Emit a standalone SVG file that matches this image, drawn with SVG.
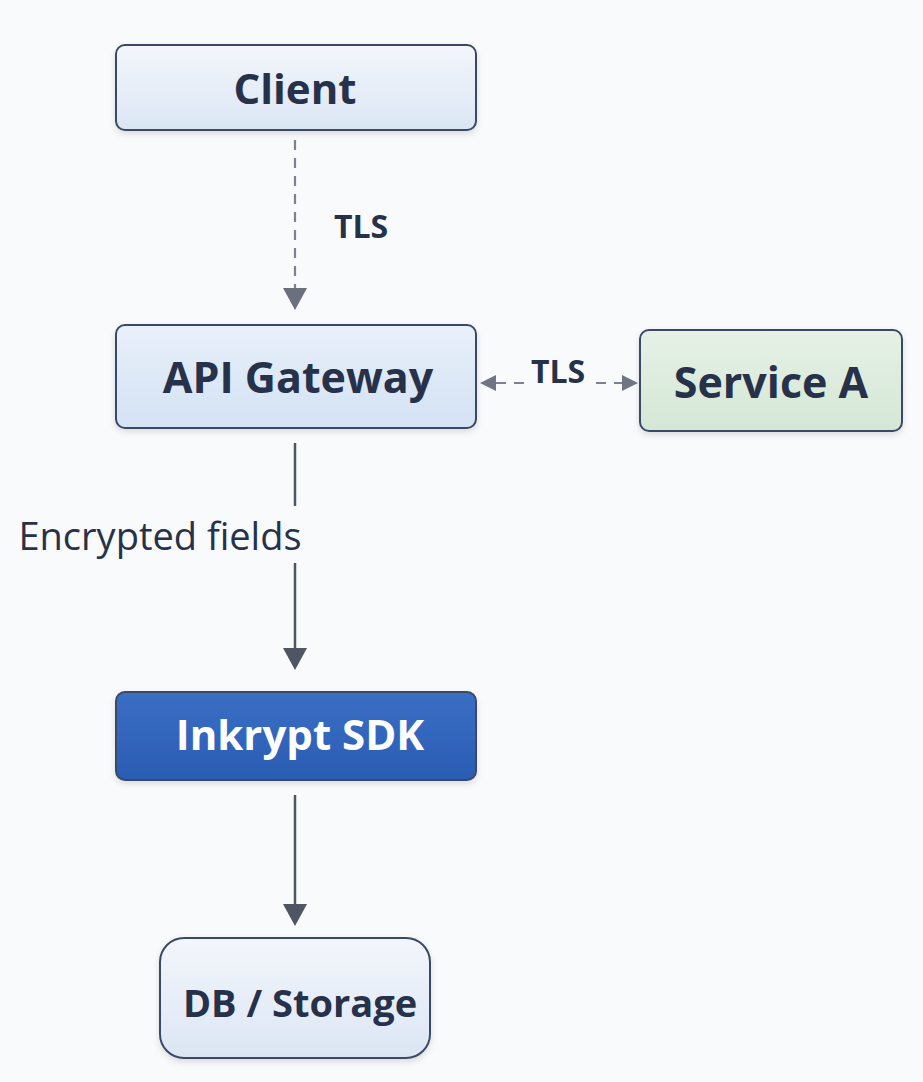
<svg xmlns="http://www.w3.org/2000/svg" width="923" height="1082" viewBox="0 0 923 1082">
<style>
.lbl{font-family:"Open Sans","Noto Sans",sans-serif;font-weight:700;fill:#27324a;text-anchor:middle}
.node{stroke:#3b4a66;stroke-width:2}
.solid{stroke:#4e5563;stroke-width:2.5;fill:none}
.dash{stroke:#7b8190;stroke-width:2.2;fill:none;stroke-dasharray:10 8}
.edge{font-family:"Open Sans","Noto Sans",sans-serif;fill:#27324a}
</style>
<defs>
<linearGradient id="gBlue" x1="0" y1="0" x2="0" y2="1"><stop offset="0" stop-color="#f3f6fb"/><stop offset="1" stop-color="#dbe6f4"/></linearGradient>
<linearGradient id="gBlue2" x1="0" y1="0" x2="0" y2="1"><stop offset="0" stop-color="#e8f0fa"/><stop offset="1" stop-color="#d3e2f4"/></linearGradient>
<linearGradient id="gGreen" x1="0" y1="0" x2="0" y2="1"><stop offset="0" stop-color="#e6f1e6"/><stop offset="1" stop-color="#d4e7d5"/></linearGradient>
<linearGradient id="gSdk" x1="0" y1="0" x2="0" y2="1"><stop offset="0" stop-color="#3a6fc4"/><stop offset="1" stop-color="#2a5cb3"/></linearGradient>
<filter id="sh" x="-10%" y="-20%" width="120%" height="150%"><feDropShadow dx="0" dy="3" stdDeviation="3" flood-color="#000" flood-opacity="0.12"/></filter>
</defs>
<rect width="923" height="1082" fill="#f9fafb"/>

<g id="connectors">
  <line class="dash" x1="295" y1="140" x2="295" y2="288"/>
  <path d="M283,288 L307,288 L295,310 Z" fill="#6a707d"/>
  <text class="edge" x="361" y="238" font-size="32" font-weight="700" text-anchor="middle">TLS</text>

  <line class="dash" x1="496" y1="383" x2="524" y2="383" stroke-dasharray="10 6"/>
  <line class="dash" x1="596" y1="383" x2="624" y2="383" stroke-dasharray="10 6"/>
  <path d="M480,383 L496,375 L496,391 Z" fill="#6f7583"/>
  <path d="M638,383 L622,375 L622,391 Z" fill="#6f7583"/>
  <text class="edge" x="558" y="383" font-size="32" font-weight="700" text-anchor="middle">TLS</text>

  <line class="solid" x1="295" y1="443" x2="295" y2="506"/>
  <text class="edge" x="160" y="550" font-size="38" font-weight="400" fill="#2f3a4e" text-anchor="middle">Encrypted fields</text>
  <line class="solid" x1="295" y1="563" x2="295" y2="650"/>
  <path d="M283,648 L307,648 L295,670 Z" fill="#4e5563"/>

  <line class="solid" x1="295" y1="795" x2="295" y2="906"/>
  <path d="M283,904 L307,904 L295,926 Z" fill="#4e5563"/>
</g>

<g id="client">
  <rect class="node" x="116" y="45" width="360" height="85" rx="9" fill="url(#gBlue)" filter="url(#sh)"/>
  <text class="lbl" x="295" y="104" font-size="42">Client</text>
</g>

<g id="api-gateway">
  <rect class="node" x="116" y="325" width="360" height="103" rx="9" fill="url(#gBlue2)" filter="url(#sh)"/>
  <text class="lbl" x="298" y="393" font-size="43">API Gateway</text>
</g>

<g id="service-a">
  <rect class="node" x="640" y="330" width="262" height="101" rx="9" fill="url(#gGreen)" stroke="#4a5a58" filter="url(#sh)"/>
  <text class="lbl" x="771" y="398" font-size="43">Service A</text>
</g>

<g id="inkrypt-sdk">
  <rect class="node" x="116" y="692" width="360" height="88" rx="9" fill="url(#gSdk)" stroke="#1f3f7a" filter="url(#sh)"/>
  <text class="lbl" x="300" y="750" font-size="42" style="fill:#ffffff">Inkrypt SDK</text>
</g>

<g id="db-storage">
  <rect class="node" x="160" y="938" width="270" height="120" rx="24" fill="url(#gBlue)" filter="url(#sh)"/>
  <text class="lbl" x="300" y="1017" font-size="38">DB / Storage</text>
</g>
</svg>
